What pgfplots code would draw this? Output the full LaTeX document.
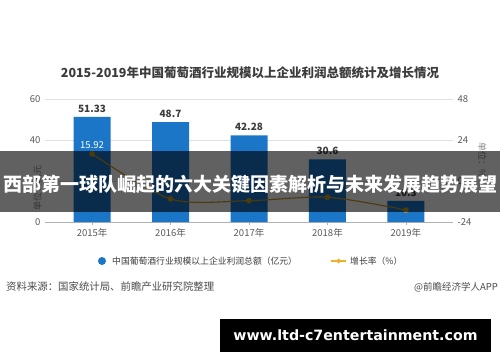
\documentclass[border=0pt]{standalone}
\usepackage{pgfplots}
\pgfplotsset{compat=1.18}
\usepackage{fontspec}
\setmainfont{Noto Sans CJK SC}
\newfontfamily\dejavu{DejaVu Sans}
\definecolor{barblue}{RGB}{28,118,200}
\definecolor{lineor}{RGB}{238,176,40}
\definecolor{txt}{RGB}{60,60,60}
\definecolor{ticktxt}{RGB}{90,90,90}
\begin{document}
\begin{tikzpicture}[x=1pt,y=1pt]
\path[use as bounding box, fill=white] (0,0) rectangle (500,362);
\node[font=\fontsize{12.5}{14}\selectfont\bfseries, text=txt] at (250,289) {2015-2019年中国葡萄酒行业规模以上企业利润总额统计及增长情况};

\begin{axis}[at={(45pt,140pt)}, anchor=south west, scale only axis,
  width=408pt, height=123pt,
  xmin=-0.6, xmax=4.6, ymin=0, ymax=60, ytick={0,20,40,60},
  xtick={0,1,2,3,4}, xticklabels={2015年,2016年,2017年,2018年,2019年},
  axis x line*=bottom, axis y line*=left,
  y axis line style={draw=none}, x axis line style={draw=black!30, line width=0.8pt},
  ytick style={draw=none}, xtick style={draw=black!30},
  major tick length=3pt,
  ymajorgrids, grid style={draw=black!12, line width=0.6pt},
  ticklabel style={font=\fontsize{9.5}{11}\selectfont, text=ticktxt},
  /pgf/number format/assume math mode=true,
  yticklabel style={xshift=-1pt},
  ylabel={单位：亿元}, ylabel style={font=\fontsize{9}{10}\selectfont, text=black!45, at={(axis description cs:0,0.5)}, xshift=-27pt},
  ybar, bar width=37pt,
  nodes near coords, every node near coord/.append style={font=\fontsize{10}{11}\selectfont\bfseries, text=txt, yshift=1pt},
  /pgf/number format/.cd, fixed, precision=2,
]
\addplot[fill=barblue, draw=none] coordinates {(0,51.33) (1,48.7) (2,42.28) (3,30.6) (4,10.3)};
\end{axis}

\begin{axis}[at={(45pt,140pt)}, anchor=south west, scale only axis,
  width=408pt, height=123pt,
  xmin=-0.6, xmax=4.6, ymin=-24, ymax=48, ytick={-24,0,24,48},
  axis x line=none, axis y line*=right,
  y axis line style={draw=none}, ytick style={draw=none},
  ticklabel style={font=\fontsize{9.5}{11}\selectfont, text=ticktxt},
  /pgf/number format/assume math mode=true,
  yticklabel style={xshift=1pt},
  ylabel={单位：\%}, ylabel style={font=\fontsize{9}{10}\selectfont, text=black!45, rotate=180},
  point meta=explicit symbolic,
  nodes near coords, every node near coord/.append style={font=\fontsize{9.5}{11}\selectfont, text=white, yshift=1pt},
]
\addplot[smooth, tension=0.5, color=lineor!85!black, line width=1.1pt, mark=*, mark size=2.3pt, mark options={fill=lineor!85!black, draw=lineor!85!black}]
  coordinates {(0,15.92) [15.92] (1,-10.5) [] (2,-11.5) [] (3,-9.5) [] (4,-17.0) []};
\end{axis}

% banner
\fill[black, opacity=0.62] (0,150) rectangle (500,211);
\node[font=\fontsize{19}{21}\selectfont\bfseries, text=white] at (250,178) {西部第一球队崛起的六大关键因素解析与未来发展趋势展望};

% legend
\fill[barblue] (102,101) circle (4);
\node[anchor=west, font=\fontsize{8.8}{10}\selectfont, text=txt, inner sep=0] at (112,101) {中国葡萄酒行业规模以上企业利润总额（亿元）};
\draw[lineor, line width=1.2pt] (331,101) -- (346,101);
\fill[lineor] (338.5,98.5) -- (341,101) -- (338.5,103.5) -- (336,101) -- cycle;
\node[anchor=west, font=\fontsize{8.8}{10}\selectfont, text=txt, inner sep=0] at (350,101) {增长率（\%）};

% source
\node[anchor=west, font=\fontsize{10.4}{12}\selectfont, text=black!70, inner sep=0] at (6,75) {资料来源：国家统计局、前瞻产业研究院整理};
\node[anchor=east, font=\fontsize{9.5}{11}\selectfont, text=black!70, inner sep=0] at (498,75) {@前瞻经济学人APP};

% bottom box
\fill[black] (220,10) rectangle (491,43);
\node[font=\dejavu\fontsize{14.2}{16}\selectfont\bfseries, text=white] at (355.5,26.5) {www.ltd-c7entertainment.com};
\end{tikzpicture}
\end{document}
